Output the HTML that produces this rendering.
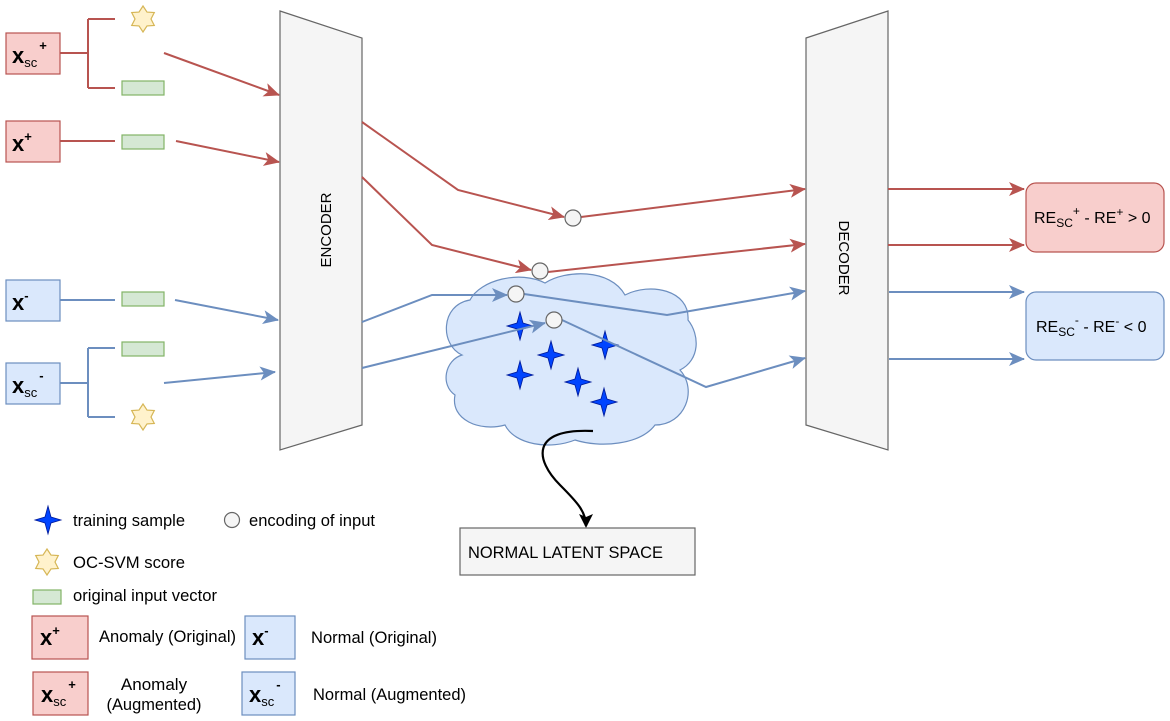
<!DOCTYPE html>
<html><head><meta charset="utf-8"><style>
html,body{margin:0;padding:0;background:#fff;}
svg{display:block;}
text{font-family:"Liberation Sans",Arial,sans-serif;}
</style></head><body>
<svg width="1170" height="721" viewBox="0 0 1170 721" xmlns="http://www.w3.org/2000/svg">
<defs>
<marker id="ar" markerWidth="16" markerHeight="14" refX="15" refY="7" orient="auto" markerUnits="userSpaceOnUse"><path d="M0,0 L16,7 L0,14 L4,7Z" fill="#b85450"/></marker>
<marker id="ab" markerWidth="16" markerHeight="14" refX="15" refY="7" orient="auto" markerUnits="userSpaceOnUse"><path d="M0,0 L16,7 L0,14 L4,7Z" fill="#6c8ebf"/></marker>
<marker id="ak" markerWidth="14" markerHeight="14" refX="12" refY="7" orient="auto" markerUnits="userSpaceOnUse"><path d="M0,0 L14,7 L0,14 L3,7Z" fill="#000"/></marker>
<g id="hex"><polygon points="0,-13 4,-6.9 11.3,-6.5 8,0 11.3,6.5 4,6.9 0,13 -4,6.9 -11.3,6.5 -8,0 -11.3,-6.5 -4,-6.9" fill="#fff2cc" stroke="#d6b656" stroke-width="1.2"/></g>
<g id="st"><path d="M0,-14 L3,-3 L13,0 L3,3 L0,14 L-3,3 L-13,0 L-3,-3Z" fill="#0044ff" stroke="#001a99" stroke-width="0.8"/></g>
</defs>

<polygon points="280,11 362,38 362,425 280,450" fill="#f5f5f5" stroke="#666" stroke-width="1.2"/>
<text transform="translate(331,230) rotate(-90)" font-size="15" text-anchor="middle">ENCODER</text>
<polygon points="806,38 888,11 888,450 806,425" fill="#f5f5f5" stroke="#666" stroke-width="1.2"/>
<text transform="translate(839,258) rotate(90)" font-size="15" text-anchor="middle">DECODER</text>

<rect x="6" y="33" width="54" height="41" fill="#f8cecc" stroke="#b85450" stroke-width="1.2"/>
<text x="12" y="63" font-size="22" font-weight="bold">x<tspan font-size="13" font-weight="normal" dy="4">sc</tspan><tspan font-size="13" dy="-17" dx="2">+</tspan></text>
<rect x="6" y="121" width="54" height="41" fill="#f8cecc" stroke="#b85450" stroke-width="1.2"/>
<text x="12" y="151" font-size="22" font-weight="bold">x<tspan font-size="13" dy="-10">+</tspan></text>
<rect x="6" y="280" width="54" height="41" fill="#dae8fc" stroke="#6c8ebf" stroke-width="1.2"/>
<text x="12" y="310" font-size="22" font-weight="bold">x<tspan font-size="13" dy="-10">-</tspan></text>
<rect x="6" y="363" width="54" height="41" fill="#dae8fc" stroke="#6c8ebf" stroke-width="1.2"/>
<text x="12" y="393" font-size="22" font-weight="bold">x<tspan font-size="13" font-weight="normal" dy="4">sc</tspan><tspan font-size="13" dy="-17" dx="2">-</tspan></text>

<g fill="none" stroke-width="2">
<path d="M60,53 H88 M88,19 V88 M88,19 H115 M88,88 H115 M60,141 H115" stroke="#b85450"/>
<path d="M60,300 H115 M60,383 H88 M88,348 V417 M88,348 H115 M88,417 H115" stroke="#6c8ebf"/>
</g>
<use href="#hex" x="143" y="19"/>
<use href="#hex" x="143" y="417"/>
<g fill="#d5e8d4" stroke="#82b366" stroke-width="1.2">
<rect x="122" y="81" width="42" height="14"/>
<rect x="122" y="135" width="42" height="14"/>
<rect x="122" y="292" width="42" height="14"/>
<rect x="122" y="342" width="42" height="14"/>
</g>

<g fill="none" stroke-width="2">
<path d="M164,53 L279,95" stroke="#b85450" marker-end="url(#ar)"/>
<path d="M176,141 L279,162" stroke="#b85450" marker-end="url(#ar)"/>
<path d="M175,300 L278,320" stroke="#6c8ebf" marker-end="url(#ab)"/>
<path d="M164,383 L275,372" stroke="#6c8ebf" marker-end="url(#ab)"/>
</g>

<path d="M470,300 C480,280 520,270 545,283 C565,270 610,268 625,295 C650,282 690,290 688,320 C700,335 700,360 680,370 C698,390 685,425 655,425 C640,445 600,448 575,440 C550,450 515,445 505,425 C480,432 450,420 455,395 C440,385 445,360 462,355 C440,345 440,305 470,300Z" fill="#dae8fc" stroke="#6c8ebf" stroke-width="1.2"/>
<use href="#st" x="520" y="326"/>
<use href="#st" x="551" y="355"/>
<use href="#st" x="605" y="345"/>
<use href="#st" x="520" y="375"/>
<use href="#st" x="578" y="382"/>
<use href="#st" x="604" y="402"/>

<g fill="none" stroke-width="2">
<path d="M362,122 L458,190 L564,217" stroke="#b85450" marker-end="url(#ar)"/>
<path d="M362,177 L432,245 L531,270" stroke="#b85450" marker-end="url(#ar)"/>
<path d="M581,217 L805,189" stroke="#b85450" marker-end="url(#ar)"/>
<path d="M548,272 L805,244" stroke="#b85450" marker-end="url(#ar)"/>
<path d="M362,322 L432,295 L507,295" stroke="#6c8ebf" marker-end="url(#ab)"/>
<path d="M362,368 L545,323" stroke="#6c8ebf" marker-end="url(#ab)"/>
<path d="M524,294 L667,315 L805,291" stroke="#6c8ebf" marker-end="url(#ab)"/>
<path d="M562,320 L706,387 L805,358" stroke="#6c8ebf" marker-end="url(#ab)"/>
</g>
<g fill="#f5f5f5" stroke="#666" stroke-width="1.2">
<circle cx="573" cy="218" r="8"/>
<circle cx="540" cy="271" r="8"/>
<circle cx="516" cy="294" r="8"/>
<circle cx="554" cy="320" r="8"/>
</g>

<g fill="none" stroke-width="2">
<path d="M888,189 L1024,189" stroke="#b85450" marker-end="url(#ar)"/>
<path d="M888,245 L1024,245" stroke="#b85450" marker-end="url(#ar)"/>
<path d="M889,292 L1024,292" stroke="#6c8ebf" marker-end="url(#ab)"/>
<path d="M889,359 L1024,359" stroke="#6c8ebf" marker-end="url(#ab)"/>
</g>
<rect x="1026" y="183" width="138" height="69" rx="10" fill="#f8cecc" stroke="#b85450" stroke-width="1.2"/>
<text x="1034" y="223" font-size="16">RE<tspan font-size="12" dy="4">SC</tspan><tspan font-size="12" dy="-12">+</tspan><tspan dy="8"> - RE</tspan><tspan font-size="12" dy="-7">+</tspan><tspan dy="7"> &gt; 0</tspan></text>
<rect x="1026" y="292" width="138" height="68" rx="10" fill="#dae8fc" stroke="#6c8ebf" stroke-width="1.2"/>
<text x="1036" y="332" font-size="16">RE<tspan font-size="12" dy="4">SC</tspan><tspan font-size="12" dy="-12">-</tspan><tspan dy="8"> - RE</tspan><tspan font-size="12" dy="-7">-</tspan><tspan dy="7"> &lt; 0</tspan></text>

<path d="M593,431 C530,428 535,460 560,485 C578,503 586,512 586,526" fill="none" stroke="#000" stroke-width="2.2" marker-end="url(#ak)"/>
<rect x="460" y="528" width="235" height="47" fill="#f5f5f5" stroke="#666" stroke-width="1.2"/>
<text x="468" y="558" font-size="17" textLength="195" lengthAdjust="spacingAndGlyphs">NORMAL LATENT SPACE</text>

<!-- legend -->
<use href="#st" x="48" y="520"/>
<text x="73" y="526" font-size="17" textLength="112" lengthAdjust="spacingAndGlyphs">training sample</text>
<circle cx="232" cy="520" r="7.5" fill="#f5f5f5" stroke="#666" stroke-width="1.2"/>
<text x="249" y="526" font-size="17" textLength="126" lengthAdjust="spacingAndGlyphs">encoding of input</text>
<use href="#hex" x="47" y="562"/>
<text x="73" y="568" font-size="17" textLength="112" lengthAdjust="spacingAndGlyphs">OC-SVM score</text>
<rect x="33" y="590" width="28" height="14" fill="#d5e8d4" stroke="#82b366" stroke-width="1.2"/>
<text x="73" y="601" font-size="17" textLength="144" lengthAdjust="spacingAndGlyphs">original input vector</text>
<rect x="32" y="616" width="56" height="43" fill="#f8cecc" stroke="#b85450" stroke-width="1.2"/>
<text x="40" y="645" font-size="22" font-weight="bold">x<tspan font-size="13" dy="-10">+</tspan></text>
<text x="99" y="642" font-size="17" textLength="137" lengthAdjust="spacingAndGlyphs">Anomaly (Original)</text>
<rect x="245" y="616" width="50" height="43" fill="#dae8fc" stroke="#6c8ebf" stroke-width="1.2"/>
<text x="252" y="645" font-size="22" font-weight="bold">x<tspan font-size="13" dy="-10">-</tspan></text>
<text x="311" y="643" font-size="17" textLength="126" lengthAdjust="spacingAndGlyphs">Normal (Original)</text>
<rect x="33" y="672" width="55" height="43" fill="#f8cecc" stroke="#b85450" stroke-width="1.2"/>
<text x="41" y="702" font-size="22" font-weight="bold">x<tspan font-size="13" font-weight="normal" dy="4">sc</tspan><tspan font-size="13" dy="-17" dx="2">+</tspan></text>
<text x="154" y="690" font-size="17" text-anchor="middle">Anomaly</text>
<text x="154" y="710" font-size="17" text-anchor="middle" textLength="95" lengthAdjust="spacingAndGlyphs">(Augmented)</text>
<rect x="242" y="672" width="53" height="43" fill="#dae8fc" stroke="#6c8ebf" stroke-width="1.2"/>
<text x="249" y="702" font-size="22" font-weight="bold">x<tspan font-size="13" font-weight="normal" dy="4">sc</tspan><tspan font-size="13" dy="-17" dx="2">-</tspan></text>
<text x="313" y="700" font-size="17" textLength="153" lengthAdjust="spacingAndGlyphs">Normal (Augmented)</text>
</svg>
</body></html>
